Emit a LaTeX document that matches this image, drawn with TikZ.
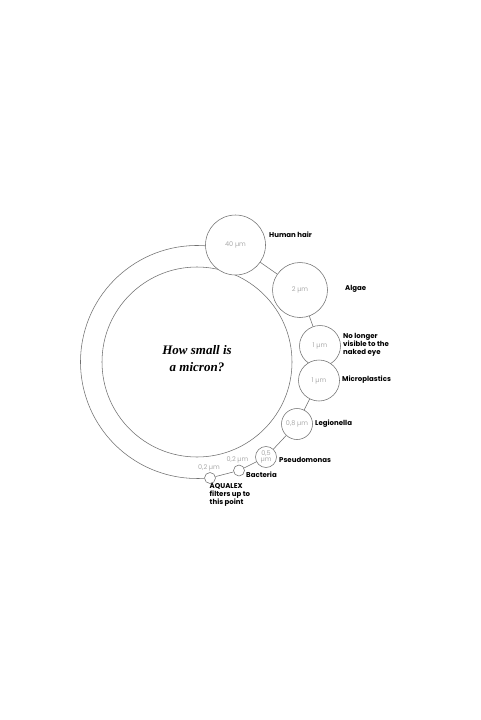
\documentclass[tikz,border=0pt]{standalone}
\usepackage{fontspec}
\setmainfont{Poppins}
\newfontfamily\titlefont{Liberation Serif}
\begin{document}
\begin{tikzpicture}[x=1pt,y=-1pt,
  ring/.style={draw=linegray,line width=0.55pt},
  bub/.style={circle,draw=linegray,line width=0.55pt,inner sep=0pt,fill=white,
    font=\fontsize{6.5}{7}\selectfont,text=txtgray,align=center},
  lab/.style={anchor=west,inner sep=0pt,font=\fontsize{7}{8}\selectfont\bfseries,text=black,align=left},
  glab/.style={inner sep=0pt,font=\fontsize{6.5}{7}\selectfont,text=txtgray}]
\definecolor{linegray}{HTML}{707070}
\definecolor{txtgray}{HTML}{AAAAAA}
\useasboundingbox[fill=white] (0,0) rectangle (480,720);
\coordinate (c) at (197,362);
% outer arc
\draw[ring] (c) ++(-85.3:116.5) arc[start angle=-85.3,end angle=-273.5,radius=116.5];
% inner circle
\node[circle,ring,minimum size=190pt,inner sep=0pt] (inner) at (c) {};
\node[align=center,font=\titlefont\fontsize{13}{17}\selectfont\bfseries\itshape] (title) at (197,358.5) {How small is\\a micron?};
% bubbles
\node[bub,minimum size=60pt] (hair) at (235.5,245) {40 µm};
\node[bub,minimum size=55pt] (algae) at (300,290) {2 µm};
\node[bub,minimum size=41pt] (eye) at (320,346) {1 µm};
\node[bub,minimum size=41pt] (micro) at (319,380.5) {1 µm};
\node[bub,minimum size=31pt] (legio) at (297,424) {0,8 µm};
\node[bub,minimum size=21pt,font=\fontsize{6.5}{6.5}\selectfont] (pseudo) at (266,457) {0,5\\µm};
\node[bub,minimum size=11pt] (bact) at (239,470.5) {};
\node[bub,minimum size=11pt] (aqua) at (210,478) {};
% connectors
\draw[ring] (hair) -- (algae);
\draw[ring] (algae) -- (eye);
\draw[ring] (micro) -- (legio);
\draw[ring] (legio) -- (pseudo);
\draw[ring] (pseudo) -- (bact);
\draw[ring] (bact) -- (aqua);
% gray labels
\node[glab] (gb) at (237.5,460) {0,2 µm};
\node[glab] (ga) at (209,467.5) {0,2 µm};
% labels
\node[lab] (lhair) at (269,235) {Human hair};
\node[lab] (lalgae) at (345,289) {Algae};
\node[lab] (leye) at (343,345) {No longer\\visible to the\\naked eye};
\node[lab] (lmicro) at (342,380) {Microplastics};
\node[lab] (llegio) at (315,424) {Legionella};
\node[lab] (lpseudo) at (279,459.5) {Pseudomonas};
\node[lab] (lbact) at (246,475) {Bacteria};
\node[lab] (laqua) at (209.5,495) {AQUALEX\\filters up to\\this point};
\end{tikzpicture}
\end{document}
